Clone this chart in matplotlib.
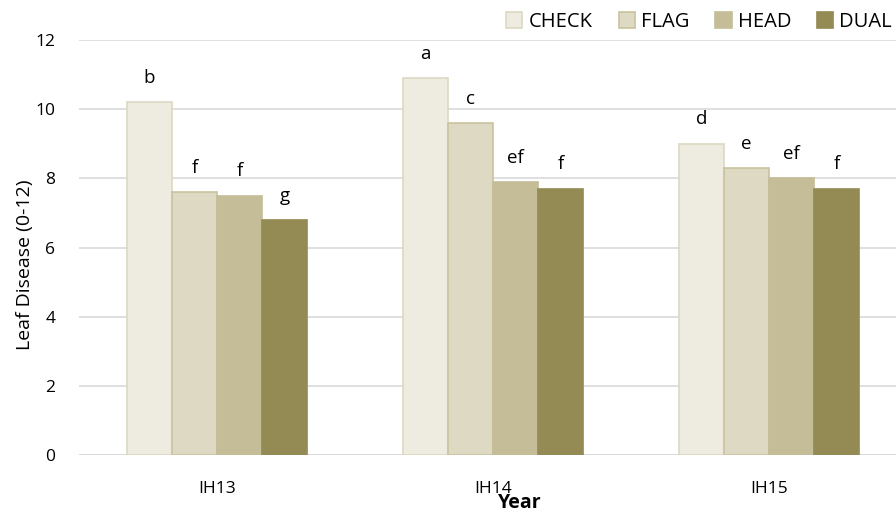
import numpy as np
import matplotlib.pyplot as plt

plt.rcParams['font.family'] = ['Open Sans', 'DejaVu Sans']

years = ['IH13', 'IH14', 'IH15']
treatments = ['CHECK', 'FLAG', 'HEAD', 'DUAL']
disease = {
    'CHECK': [10.2, 10.9, 9.0],
    'FLAG': [7.6, 9.6, 8.3],
    'HEAD': [7.5, 7.9, 8.0],
    'DUAL': [6.8, 7.7, 7.7],
}
letters = {
    'CHECK': ['b', 'a', 'd'],
    'FLAG': ['f', 'c', 'e'],
    'HEAD': ['f', 'ef', 'ef'],
    'DUAL': ['g', 'f', 'f'],
}
fills = ['#EEECE1', '#DDD9C3', '#C4BD97', '#948A54']
edges = ['#DCD8C2', '#C9C3A2', '#C4BD97', '#948A54']

W, H = 896, 515
fig = plt.figure(figsize=(W / 100, H / 100), dpi=100)
# plot area runs a little past the right edge of the canvas
ax = fig.add_axes([79 / W, 1 - 455 / H, 828 / W, 415 / H])

x = np.arange(len(years))
width = 0.163
for i, t in enumerate(treatments):
    pos = x + (i - 1.5) * width
    bars = ax.bar(pos, disease[t], width, color=fills[i], edgecolor=edges[i],
                  linewidth=1.2, label=t, zorder=3)
    for b, lab in zip(bars, letters[t]):
        ax.annotate(lab, (b.get_x() + b.get_width() / 2, b.get_height()),
                    xytext=(0, 11), textcoords='offset points',
                    ha='center', va='bottom', fontsize=13.5)

ax.set_ylim(0, 12)
ax.set_yticks(range(0, 13, 2))
ax.set_xlim(-0.5, 2.5)
ax.set_xticks(x)
ax.set_xticklabels(years)
ax.tick_params(axis='x', length=0, labelsize=12.5, pad=19)
ax.tick_params(axis='y', length=0, labelsize=12.5, pad=17)
ax.grid(axis='y', color='#D9D9D9', linewidth=1.2, zorder=0)
for s in ax.spines.values():
    s.set_visible(False)
ax.axhline(0, color='#D9D9D9', linewidth=1.2, zorder=1)

fig.text(25 / W, 1 - 265 / H, 'Leaf Disease (0-12)', rotation=90,
         ha='center', va='center', fontsize=14)
fig.text(520 / W, 1 - 503 / H, 'Year', ha='center', va='center',
         fontsize=14, fontweight='bold')

fig.legend(loc='center right', bbox_to_anchor=(892 / W, 1 - 22 / H), ncol=4,
           frameon=False, fontsize=14.5, handlelength=0.8, handleheight=0.8,
           handletextpad=0.3, columnspacing=1.3, borderaxespad=0, borderpad=0)

fig.savefig('out.png', dpi=100)
